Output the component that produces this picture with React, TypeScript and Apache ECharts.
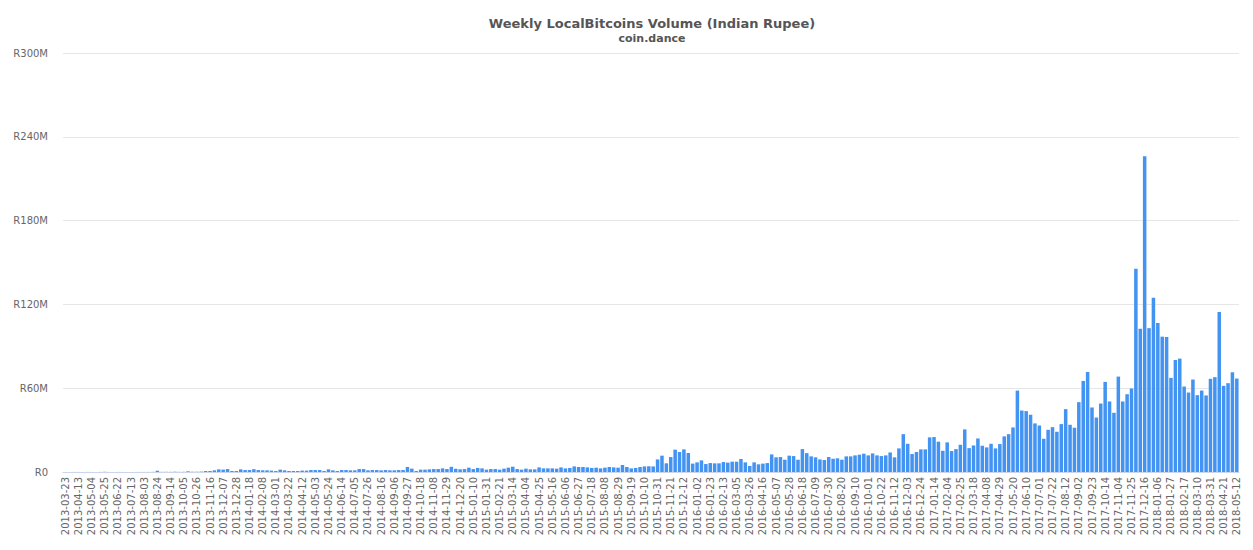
import React, { useEffect, useRef } from "react";
import * as echarts from "echarts";

// Weekly volume in millions of INR, one array per calendar year
const vol2013 = [
  0.03, 0.02, 0.04, 0.03, 0.02, 0.05, 0.03, 0.02, 0.04, 0.15,
  0.03, 0.02, 0.04, 0.03, 0.05, 0.02, 0.03, 0.04, 0.05, 0.06,
  0.1, 0.9, 0.1, 0.15, 0.1, 0.2, 0.1, 0.15, 0.5, 0.2,
  0.2, 0.3, 0.7, 0.7, 1.2, 1.9, 1.7, 2.1, 0.7, 0.7,
];
const vol2014 = [
  1.9, 1.4, 1.4, 2.0, 1.4, 1.2, 1.2, 1.0, 0.7, 1.7,
  1.2, 0.7, 0.7, 0.7, 1.0, 1.0, 1.4, 1.4, 1.4, 0.7,
  1.9, 1.2, 0.7, 1.4, 1.4, 1.2, 1.2, 2.1, 2.1, 1.2,
  1.4, 1.4, 1.2, 1.4, 1.2, 1.2, 1.4, 1.4, 3.6, 2.4,
  0.7, 1.7, 1.7, 1.9, 2.1, 2.1, 2.6, 2.1, 3.7, 2.3,
  1.9, 2.1,
];
const vol2015 = [
  3.1, 2.1, 2.9, 2.6, 1.7, 2.1, 2.1, 1.7,
  2.4, 3.1, 3.8, 2.1, 1.7, 2.4, 1.9, 1.9, 3.3, 2.6,
  2.6, 2.6, 2.4, 3.3, 2.6, 2.9, 4.0, 3.6, 3.6, 3.3,
  2.9, 3.1, 2.6, 3.1, 3.6, 3.3, 3.1, 5.0, 3.6, 2.6,
  2.9, 3.6, 4.0, 4.1, 4.0, 9.0, 11.7, 6.2, 10.7, 16.0,
  14.3, 16.2, 13.6, 6.0,
];
const vol2016 = [
  6.9, 8.3, 5.7, 6.4, 6.2, 6.2,
  7.1, 6.7, 7.4, 7.4, 9.3, 6.9, 4.3, 6.9, 5.5, 6.0,
  6.4, 12.6, 10.5, 10.7, 8.8, 11.7, 11.4, 8.8, 16.4, 13.5,
  11.2, 10.5, 9.0, 8.6, 10.7, 9.5, 9.8, 8.8, 11.2, 11.2,
  11.9, 12.4, 13.1, 11.9, 13.3, 11.9, 11.4, 11.9, 14.0, 10.5,
  16.9, 27.1, 20.2, 12.9, 14.3, 16.2, 16.2,
];
const vol2017 = [
  24.8, 25.0, 21.7,
  15.2, 21.2, 15.0, 16.4, 19.5, 30.5, 17.1, 19.0, 24.0, 18.8,
  17.6, 20.2, 16.9, 20.0, 25.5, 27.1, 31.9, 58.3, 44.0, 43.6,
  41.0, 34.8, 33.3, 23.8, 30.2, 32.1, 28.8, 34.3, 45.0, 33.8,
  31.7, 50.0, 65.2, 71.6, 46.2, 39.0, 49.0, 64.5, 50.5, 42.4,
  68.3, 50.5, 55.7, 59.8, 145.5, 102.6, 226.0, 103.0, 124.8,
];
const vol2018 = [
  106.7, 96.9, 96.7, 67.4, 80.2, 81.2, 61.2, 56.9, 66.2, 55.0,
  58.3, 54.8, 66.7, 67.9, 114.5, 61.7, 63.6, 71.4, 66.9,
];

const volumes = [...vol2013, ...vol2014, ...vol2015, ...vol2016, ...vol2017, ...vol2018];

// Week labels: weekly from the first week, one week with no record skipped
const firstWeek = "2013-03-23";
const skippedWeek = "2013-06-08";
const yTicks = [0, 60, 120, 180, 240, 300];

function buildWeeks(count: number): string[] {
  const out: string[] = [];
  const d = new Date(firstWeek + "T00:00:00Z");
  while (out.length < count) {
    const s = d.toISOString().slice(0, 10);
    if (s !== skippedWeek) out.push(s);
    d.setUTCDate(d.getUTCDate() + 7);
  }
  return out;
}
const weeks = buildWeeks(volumes.length);

const FONT = "'DejaVu Sans', Verdana, sans-serif";

export default function App() {
  const ref = useRef<HTMLDivElement>(null);
  useEffect(() => {
    if (!ref.current) return;
    const chart = echarts.init(ref.current, undefined, { renderer: "svg" });
    chart.setOption({
      animation: false,
      backgroundColor: "#ffffff",
      title: {
        text: "Weekly LocalBitcoins Volume (Indian Rupee)",
        subtext: "coin.dance",
        left: 647,
        top: 12,
        textAlign: "center",
        itemGap: 3,
        textStyle: { fontFamily: FONT, fontSize: 13, fontWeight: "bold", color: "#555555" },
        subtextStyle: { fontFamily: FONT, fontSize: 11, fontWeight: "bold", color: "#555555" },
      },
      grid: { left: 63, right: 14, top: 53, bottom: 78, containLabel: false },
      xAxis: {
        type: "category",
        data: weeks,
        axisLine: { lineStyle: { color: "#ccd6eb" } },
        axisTick: { show: false },
        axisLabel: {
          interval: 2,
          rotate: 90,
          fontFamily: FONT,
          fontSize: 10,
          color: "#666666",
          margin: 5,
        },
      },
      yAxis: {
        type: "value",
        min: yTicks[0],
        max: yTicks[yTicks.length - 1],
        interval: 60,
        axisLine: { show: false },
        axisTick: { show: false },
        splitLine: { lineStyle: { color: "#e6e6e6" } },
        axisLabel: {
          fontFamily: FONT,
          fontSize: 10,
          color: "#666666",
          margin: 15,
          formatter: (v: number) => (v === 0 ? "R0" : "R" + v + "M"),
        },
      },
      series: [
        {
          type: "bar",
          data: volumes,
          barCategoryGap: "20%",
          itemStyle: { color: "#4393f2" },
        },
      ],
    });
    return () => chart.dispose();
  }, []);
  return (
    <div
      ref={ref}
      style={{ position: "fixed", left: 0, top: 0, width: 1253, height: 550, background: "#fff" }}
    />
  );
}
